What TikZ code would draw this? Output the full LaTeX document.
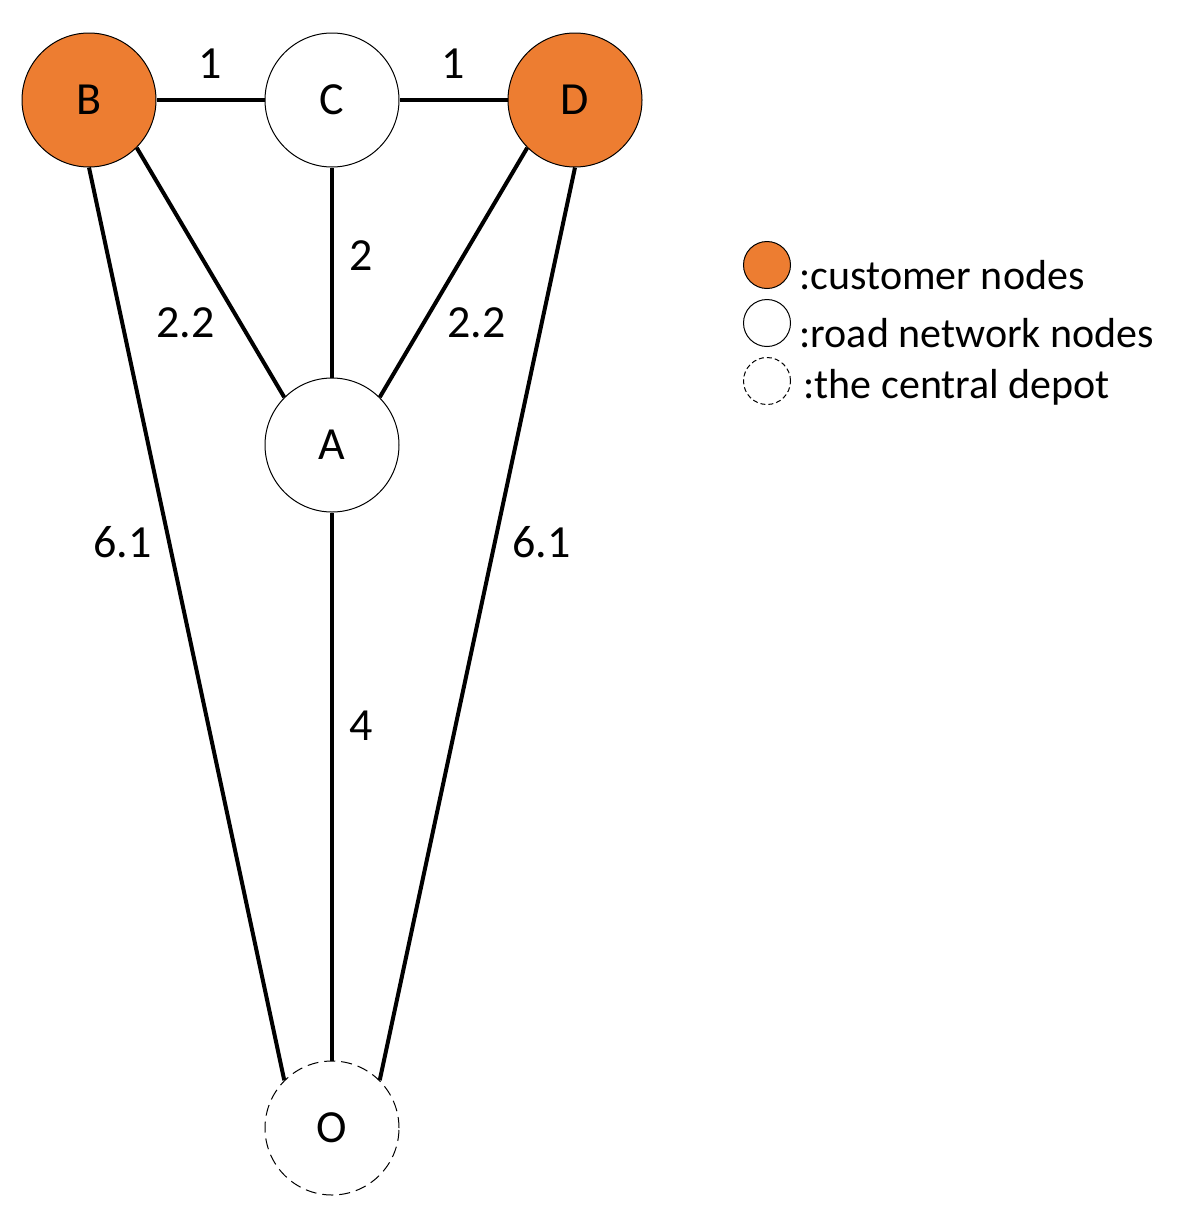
\documentclass[tikz,border=0pt]{standalone}
\usepackage{fontspec}
\setmainfont{Carlito}
\usetikzlibrary{positioning}
\definecolor{custorange}{RGB}{237,125,49}

\begin{document}
\begin{tikzpicture}[
    x=1pt, y=-1pt,
    font=\fontsize{46}{55}\selectfont,
    vertex/.style={circle, draw, line width=1pt, minimum size=134pt, inner sep=0pt},
    customer/.style={vertex, fill=custorange},
    road/.style={vertex, fill=white},
    depot/.style={vertex, dash pattern=on 11pt off 6pt},
    edge/.style={line width=4pt},
    legtext/.style={font=\fontsize{42}{50}\selectfont, anchor=base west}
]
\useasboundingbox (0,0) rectangle (1194,1216);
\node[customer] (B) at (89,100) {B};
\node[road, right=108pt of B] (C) {C};
\node[customer, right=108pt of C] (D) {D};
\node[road, below=210pt of C] (A) {A};
\node[depot, below=548pt of A] (O) {O};
\draw[edge] (B) -- node[above=16pt]{1} (C);
\draw[edge] (C) -- node[above=16pt]{1} (D);
\draw[edge] (C) -- node[pos=0.42, right=12pt]{2} (A);
\draw[edge] (B.south east) -- node[pos=0.7, left=20pt]{2.2} (A.north west);
\draw[edge] (D.south west) -- node[pos=0.7, right=18pt]{2.2} (A.north east);
\draw[edge] (A) -- node[pos=0.39, right=12pt]{4} (O);
\draw[edge] (B.south) -- node[pos=0.41, left=12pt]{6.1} (O.north west);
\draw[edge] (D.south) -- node[pos=0.41, right=12pt]{6.1} (O.north east);
\node[customer, minimum size=47pt] (legcust) at (767,265) {};
\node[road, minimum size=47pt, below=10pt of legcust] (legroad) {};
\node[depot, minimum size=47pt, dash pattern=on 5pt off 3pt, below=10pt of legroad] (legdepot) {};
\node[legtext] (txtcust) at ([xshift=5pt, yshift=-24pt]legcust.east) {:customer nodes};
\node[legtext] (txtroad) at ([xshift=5pt, yshift=-24pt]legroad.east) {:road network nodes};
\node[legtext] (txtdepot) at ([xshift=9pt, yshift=-17pt]legdepot.east) {:the central depot};
\end{tikzpicture}
\end{document}
